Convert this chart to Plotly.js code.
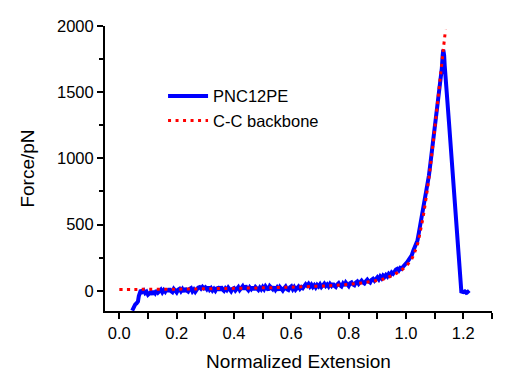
<!DOCTYPE html>
<html>
<head>
<meta charset="utf-8">
<script src="https://cdn.plot.ly/plotly-3.0.1.min.js"></script>
<style>html,body{margin:0;padding:0;background:#fff;}#chart{width:520px;height:388px;}</style>
</head>
<body>
<div id="chart"></div>
<script>
// Measured curve: PNC12PE (normalized extension, force in pN)
const pncX = [0.045,0.050,0.055,0.060,0.065,0.068,0.071,0.075,0.080,0.085,0.090,0.095,0.100,0.105,0.110,0.115,0.120,0.125,0.130,0.135,0.140,0.145,0.150,0.155,0.160,0.165,0.170,0.175,0.180,0.185,0.190,0.195,0.200,0.205,0.210,0.215,0.220,0.225,0.230,0.235,0.240,0.245,0.250,0.255,0.260,0.265,0.270,0.275,0.280,0.285,0.290,0.295,0.300,0.305,0.310,0.315,0.320,0.325,0.330,0.335,0.340,0.345,0.350,0.355,0.360,0.365,0.370,0.375,0.380,0.385,0.390,0.395,0.400,0.405,0.410,0.415,0.420,0.425,0.430,0.435,0.440,0.445,0.450,0.455,0.460,0.465,0.470,0.475,0.480,0.485,0.490,0.495,0.500,0.505,0.510,0.515,0.520,0.525,0.530,0.535,0.540,0.545,0.550,0.555,0.560,0.565,0.570,0.575,0.580,0.585,0.590,0.595,0.600,0.605,0.610,0.615,0.620,0.625,0.630,0.635,0.640,0.645,0.650,0.655,0.660,0.665,0.670,0.675,0.680,0.685,0.690,0.695,0.700,0.705,0.710,0.715,0.720,0.725,0.730,0.735,0.740,0.745,0.750,0.755,0.760,0.765,0.770,0.775,0.780,0.785,0.790,0.795,0.800,0.805,0.810,0.815,0.820,0.825,0.830,0.835,0.840,0.845,0.850,0.855,0.860,0.865,0.870,0.875,0.880,0.885,0.890,0.895,0.900,0.905,0.910,0.915,0.920,0.925,0.930,0.935,0.940,0.945,0.950,0.955,0.960,0.965,0.970,0.975,0.980,0.985,0.990,0.995,1.000,1.005,1.010,1.015,1.020,1.025,1.030,1.035,1.040,1.045,1.050,1.055,1.060,1.065,1.070,1.075,1.080,1.085,1.090,1.095,1.100,1.105,1.110,1.115,1.120,1.125,1.128,1.130,1.133,1.135,1.150,1.160,1.170,1.180,1.190,1.193,1.200,1.205,1.210,1.215,1.220];
const pncY = [-150,-125,-105,-95,-80,-40,-5,5,-8,2,-18,-8,-30,-18,-10,-28,-2,-18,3,-14,0,8,-12,5,-8,12,-6,15,-2,-10,14,0,-12,8,15,-4,12,-8,18,2,-6,14,20,-4,10,-8,10,24,28,16,30,18,26,12,30,8,20,2,15,0,18,22,5,30,10,0,18,5,24,8,-4,15,20,2,18,28,6,22,34,10,38,16,4,25,12,30,8,28,15,6,24,10,28,12,34,18,6,35,20,12,30,8,24,4,28,10,2,20,32,12,6,26,34,12,28,8,22,32,15,28,20,34,50,38,52,32,46,28,42,25,44,32,48,28,44,54,36,48,32,52,38,56,36,28,48,58,40,32,54,38,62,42,36,58,64,48,42,62,70,52,64,76,62,55,72,84,70,62,82,90,76,95,102,86,108,94,115,104,120,108,128,118,138,128,152,160,166,154,172,166,182,192,205,218,235,250,268,300,330,350,380,440,500,560,620,670,740,800,870,960,1050,1140,1220,1300,1400,1490,1560,1680,1780,1820,1780,1700,1270,980,680,380,60,-5,-10,-5,-15,-8,-20];

// Model curve: C-C backbone
const ccX = [0.00,0.05,0.10,0.20,0.30,0.40,0.50,0.60,0.70,0.75,0.80,0.85,0.90,0.93,0.96,0.98,1.00,1.02,1.03,1.04,1.05,1.06,1.07,1.08,1.09,1.10,1.11,1.12,1.13,1.138];
const ccY = [10,10,11,12,15,18,22,27,35,40,48,60,78,95,125,150,185,240,290,350,450,560,700,850,1030,1220,1420,1620,1820,1975];

const xTicks = [0.0,0.2,0.4,0.6,0.8,1.0,1.2];
const xTickText = ['0.0','0.2','0.4','0.6','0.8','1.0','1.2'];
const yTicks = [0,500,1000,1500,2000];
const yTickText = ['0','500','1000','1500','2000'];

const FONT = 'Arial, "Liberation Sans", sans-serif';

const data = [
  {x: pncX, y: pncY, type: 'scatter', mode: 'lines', name: 'PNC12PE',
   line: {color: '#0000ff', width: 4}},
  {x: ccX, y: ccY, type: 'scatter', mode: 'lines', name: 'C-C backbone',
   line: {color: '#ff0000', width: 3, dash: '3px,4.5px', shape: 'spline'}}
];

const layout = {
  width: 520, height: 388,
  margin: {l: 105, r: 28, t: 26, b: 77},
  paper_bgcolor: '#fff', plot_bgcolor: '#fff',
  font: {family: FONT, color: '#000', size: 16.5},
  showlegend: true,
  legend: {x: 0.15, y: 0.815, xanchor: 'left', yanchor: 'top', bgcolor: 'rgba(0,0,0,0)',
           borderwidth: 0, itemwidth: 40, font: {family: FONT, size: 16.5, color: '#000'}, tracegroupgap: 0},
  xaxis: {range: [-0.05, 1.30], showgrid: false, zeroline: false, showline: true,
          linecolor: '#000', linewidth: 2, ticks: 'outside', ticklen: 6, tickwidth: 2, tickcolor: '#000',
          tickvals: xTicks, ticktext: xTickText, tickfont: {size: 16.5},
          minor: {dtick: 0.1, tick0: 0, ticks: 'outside', ticklen: 6, tickwidth: 2, tickcolor: '#000', showgrid: false},
          title: {text: 'Normalized Extension', font: {size: 19}, standoff: 14}},
  yaxis: {range: [-153, 2000], showgrid: false, zeroline: false, showline: true,
          linecolor: '#000', linewidth: 2, ticks: 'outside', ticklen: 6, tickwidth: 2, tickcolor: '#000',
          tickvals: yTicks, ticktext: yTickText, tickfont: {size: 16.5},
          minor: {dtick: 250, tick0: 0, ticks: 'outside', ticklen: 4, tickwidth: 2, tickcolor: '#000', showgrid: false},
          title: {text: 'Force/pN', font: {size: 19}, standoff: 17}}
};

Plotly.newPlot('chart', data, layout, {staticPlot: true, displayModeBar: false});
</script>
</body>
</html>
